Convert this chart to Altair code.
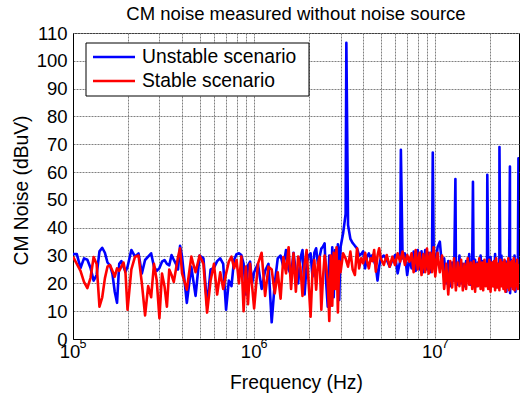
import altair as alt
import pandas as pd

SERIES = ["Unstable scenario", "Stable scenario"]
COLORS = ["#0000ff", "#ff0000"]
TITLE = "CM noise measured without noise source"
X_TITLE = "Frequency (Hz)"
Y_TITLE = "CM Noise (dBuV)"

# sample frequencies (kHz)
FREQ_KHZ = [
    100, 105, 110, 115, 120, 125, 130, 135, 140, 145, 150, 155, 160, 165, 170, 175, 180, 185, 190, 195, 200,
    210, 220, 230, 240, 250, 260, 270, 280, 290, 300, 310, 320, 330, 340, 350, 360, 370, 380, 390, 400,
    425, 450, 475, 500, 525, 550, 575, 600, 625, 650, 675, 700, 725, 750, 775, 800, 825, 850, 875, 900,
    925, 950, 975, 1000,
    1050, 1100, 1150, 1200, 1250, 1300, 1350, 1400, 1450, 1500, 1550, 1600, 1650, 1700, 1750, 1800,
    1850, 1900, 1950, 2000, 2050, 2100, 2150, 2200, 2250, 2300, 2350, 2400, 2450, 2500, 2550, 2600,
    2650, 2700, 2750, 2800, 2850, 2900, 2950, 3000,
    3100, 3200, 3300, 3400, 3500, 3600, 3700, 3800, 3900, 4000, 4100, 4200, 4300, 4400, 4500, 4600,
    4700, 4800, 4900, 5000,
    5200, 5400, 5600, 5800, 6000, 6200, 6400, 6600, 6800, 7000, 7200, 7400, 7600, 7800, 8000, 8200,
    8400, 8600, 8800, 9000, 9200, 9400, 9600, 9800, 10000,
    10300, 10600, 10900, 11200, 11500, 11800, 12100, 12400, 12700, 13000, 13300, 13600, 13900, 14200,
    14500, 14800, 15100, 15400, 15700, 16000, 16300, 16600, 16900, 17200, 17500, 17800, 18100, 18400,
    18700, 19000, 19300, 19600, 19900, 20200, 20500, 20800, 21100, 21400, 21700, 22000, 22300, 22600,
    22900, 23200, 23500, 23800, 24100, 24400, 24700, 25000, 25300, 25600, 25900, 26200, 26500, 26800,
    27100, 27400, 27700, 28000, 28300, 28600, 28900,
]

UNSTABLE_DBUV = [
    30.5, 30.5, 25.5, 29, 28.5, 25.5, 21, 23, 31.5, 32.8, 31, 27.5, 26.5, 23.5, 17, 13, 27, 28, 26, 24.2, 26,
    32, 29.6, 30.8, 23.6, 28.4, 29.6, 30.8, 26, 24.5, 25.5, 27.8, 28.4, 27, 26.5, 30.2, 28.5, 27, 25, 33.5, 29.6,
    13, 26, 15.5, 30, 29, 12, 25, 25.5, 28, 29, 27, 10.5, 21, 19, 28.5, 30.5, 30.8, 30.2, 27, 16,
    26.5, 27.8, 20, 24,
    27, 18, 24.5, 27, 6, 20, 29, 30, 26, 32, 25, 23, 31, 24, 20, 29,
    32, 16, 27, 30, 30.8, 22.4, 31, 32.6, 27, 29.6, 32.5, 33.2, 34.4, 20, 11.6, 30,
    12, 33, 15, 32, 20, 34, 14, 33,
    38, 45, 41, 36, 34.5, 33.5, 32.6, 30, 30.5, 31.5, 25.4, 29.5, 30.8, 29, 30.2, 28,
    26, 21, 26, 29,
    30, 28.5, 26, 28.4, 30.2, 23.6, 28, 29, 30.8, 23, 29, 25.4, 31.4, 24.5, 32, 25,
    31.5, 24, 32, 25, 31, 24, 30, 33, 25,
    33, 35, 26, 29, 20, 28, 19, 27.5, 21, 28, 19.5, 30, 20, 27,
    19, 28, 21, 30.5, 19.5, 27, 20, 28.5, 19, 27.5, 20.5, 30, 19, 28,
    20, 27, 21, 28.5, 19.5, 29.5, 20, 27.5, 19, 30.5, 20.5, 27, 19, 28,
    20, 30, 19.5, 27, 20, 28, 17, 27.5, 19.5, 29.5, 16.5, 28.5, 19, 27,
    20, 30, 17, 27, 19.5, 28, 20,
]

STABLE_DBUV = [
    29.6, 27, 24.5, 20.5, 18.3, 22, 29.5, 27, 11.6, 15, 21.8, 26, 26.6, 24.5, 22.4, 25.4, 24.5, 26, 27.5, 23.6, 10.5,
    25, 29.6, 30, 20, 8.5, 19, 15, 27, 21, 7.5, 23.5, 19, 11.6, 25, 23, 20.5, 25, 29.5, 32.6, 23.6,
    17.7, 29.6, 24, 30, 27, 9.5, 21, 27, 16, 24, 18, 23.5, 27.8, 29.6, 25.4, 28.4, 20, 29.6, 10, 26,
    12.5, 27, 19, 11,
    27, 31, 15.5, 26, 25, 16.4, 24, 14.5, 29.5, 23.6, 33, 18, 30.8, 17, 29.6, 26,
    15.5, 27, 32, 20, 8, 24, 28.4, 17.7, 27, 29.6, 10.5, 22, 30, 26, 21, 6.5,
    30, 12, 31, 18, 33, 9.5, 28, 24,
    30.8, 29, 26, 31.4, 25, 23, 32.6, 25.4, 29, 27.2, 31, 28, 25.4, 29, 28, 32,
    24.2, 30, 32.6, 29,
    26.6, 30.2, 26, 29.6, 26.6, 30.8, 27.8, 31.4, 26.6, 30.2, 27.8, 30.8, 24, 32, 25, 31,
    23, 30.5, 24, 32.5, 23.5, 31, 24, 33, 22.5,
    31, 24, 30, 18, 27, 16, 28, 18.5, 29, 17.5, 27.5, 19, 28.5, 17.5,
    27, 18, 29, 19.5, 27.5, 18, 28, 17, 27, 19, 29, 18, 27.5, 17.5,
    28.5, 19, 27, 18, 28.5, 17, 27.5, 19, 28, 17.5, 29, 18.5, 27, 17.5,
    28.5, 19, 27.5, 18, 28.5, 17, 27, 18.5, 29, 17.5, 27.5, 19, 28, 18,
    29, 17.5, 27, 19, 28.5, 18, 27,
]

# narrow interference peaks of the unstable case (MHz, dBuV)
PEAK_FREQ_MHZ = [3.23, 6.46, 9.69, 12.92, 16.15, 19.38, 22.62, 25.84, 28.8]
PEAK_DBUV = [106.5, 68, 67, 57.5, 56.5, 59, 69, 62, 65]

Y_TICKS = [0, 10, 20, 30, 40, 50, 60, 70, 80, 90, 100, 110]
X_GRID_HZ = [100000, 200000, 300000, 400000, 500000, 600000, 700000, 800000, 900000,
             1000000, 2000000, 3000000, 4000000, 5000000, 6000000, 7000000, 8000000, 9000000,
             10000000, 20000000]
DECADE_HZ = [100000, 1000000, 10000000]
DECADE_EXP = ["5", "6", "7"]
X_DOMAIN = [100000, 29000000]
Y_DOMAIN = [0, 110]

assert len(FREQ_KHZ) == len(UNSTABLE_DBUV) == len(STABLE_DBUV)

blue_df = pd.DataFrame({
    "f": [k * 1000 for k in FREQ_KHZ] + [m * 1e6 for m in PEAK_FREQ_MHZ],
    "v": UNSTABLE_DBUV + PEAK_DBUV,
}).sort_values("f")
blue_df["series"] = SERIES[0]
red_df = pd.DataFrame({"f": [k * 1000 for k in FREQ_KHZ], "v": STABLE_DBUV})
red_df["series"] = SERIES[1]

FONT = "Liberation Sans"
FS = 18.5
LW = 2.6

xscale = alt.Scale(type="log", domain=X_DOMAIN, nice=False)
yscale = alt.Scale(domain=Y_DOMAIN, nice=False, zero=False)

x_axis = alt.Axis(
    values=X_GRID_HZ,
    labelExpr="indexof([100000, 1000000, 10000000], datum.value) >= 0 ? '10' : ''",
    title=X_TITLE, titleY=49, titleBaseline="alphabetic", titleX=223, titleFontSize=19.3,
    labelBaseline="alphabetic", labelPadding=18, labelOffset=-3.5, labelAlign="center",
    ticks=False, tickSize=0, labelFlush=False, labelOverlap=False,
)
y_axis = alt.Axis(
    values=Y_TICKS, title=Y_TITLE, titleX=-46, titleY=157, titleAlign="center",
    titleBaseline="alphabetic", titleAngle=-90, titleFontSize=19.3,
    ticks=False, tickSize=0, labelPadding=6,
)


def line_layer(df, color):
    return alt.Chart(df).mark_line(
        color=color, strokeWidth=LW, clip=True, strokeJoin="round"
    ).encode(
        x=alt.X("f:Q", scale=xscale, axis=x_axis),
        y=alt.Y("v:Q", scale=yscale, axis=y_axis),
    )


blue = line_layer(blue_df, COLORS[0])
red = line_layer(red_df, COLORS[1])

exp_df = pd.DataFrame({"f": DECADE_HZ, "exp": DECADE_EXP})
exponents = alt.Chart(exp_df).mark_text(
    align="left", baseline="alphabetic", fontSize=12.5, dx=6.5, font=FONT, color="black"
).encode(
    x=alt.X("f:Q", scale=xscale, axis=x_axis),
    y=alt.value(315),
    text="exp:N",
)

one = pd.DataFrame({"series": [SERIES[0]]})
two = pd.DataFrame({"series": [SERIES[1]]})
title_df = pd.DataFrame({"t": [TITLE]})

title_mark = alt.Chart(title_df).mark_text(
    align="center", baseline="alphabetic", fontSize=FS, font=FONT, color="black"
).encode(x=alt.value(223), y=alt.value(-13), text="t:N")

box = alt.Chart(one).mark_rect(fill="white", stroke="black", strokeWidth=1).encode(
    x=alt.value(13), x2=alt.value(236), y=alt.value(10), y2=alt.value(63)
)
rule_u = alt.Chart(one).mark_rule(color=COLORS[0], strokeWidth=LW).encode(
    x=alt.value(20), x2=alt.value(62), y=alt.value(24)
)
rule_s = alt.Chart(two).mark_rule(color=COLORS[1], strokeWidth=LW).encode(
    x=alt.value(20), x2=alt.value(62), y=alt.value(48)
)
LEG_FS = 19.3
text_u = alt.Chart(one).mark_text(
    align="left", baseline="middle", fontSize=LEG_FS, font=FONT, color="black"
).encode(x=alt.value(69), y=alt.value(24), text="series:N")
text_s = alt.Chart(two).mark_text(
    align="left", baseline="middle", fontSize=LEG_FS, font=FONT, color="black"
).encode(x=alt.value(69), y=alt.value(48), text="series:N")

chart = alt.layer(
    blue, red, exponents, title_mark, box, rule_u, rule_s, text_u, text_s
).properties(
    width=446,
    height=306,
    autosize=alt.AutoSizeParams(type="none"),
    padding={"left": 73, "top": 33, "right": 1, "bottom": 60},
).configure(font=FONT).configure_view(
    stroke="black", strokeWidth=1
).configure_axis(
    labelFont=FONT, titleFont=FONT, labelFontSize=FS,
    titleFontWeight="normal", labelColor="black", titleColor="black",
    domainColor="black", domainWidth=1,
    grid=True, gridColor="#808080", gridDash=[2, 1], gridWidth=1,
)

chart.save("out.html", embed_options={"renderer": "svg", "actions": False})
